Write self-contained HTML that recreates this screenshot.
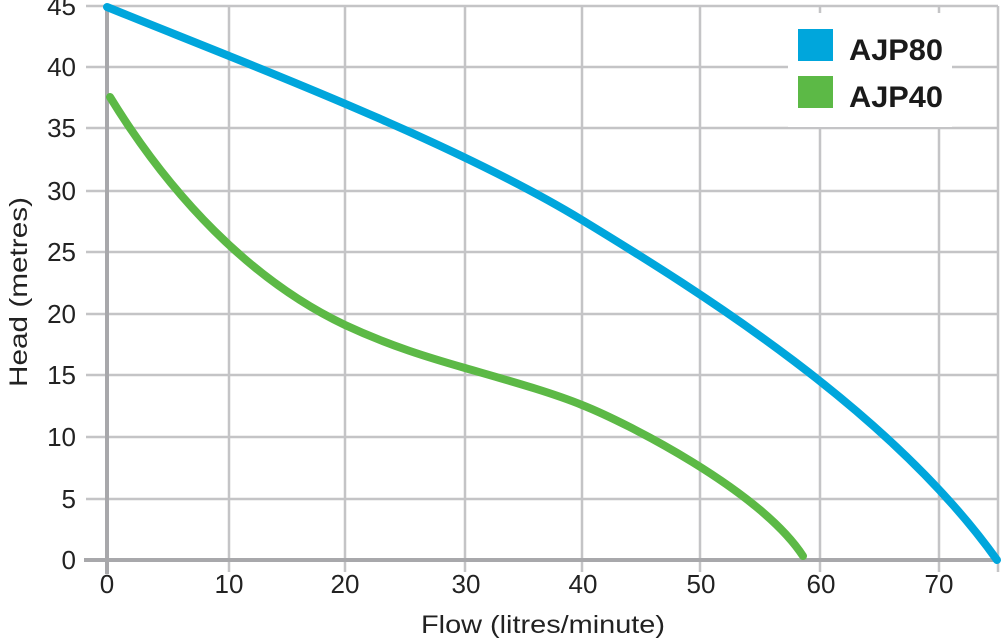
<!DOCTYPE html>
<html><head><meta charset="utf-8"><style>
html,body{margin:0;padding:0;background:#fff;}
svg{display:block;}
text{font-family:"Liberation Sans",Arial,sans-serif;fill:#222;}
</style></head><body>
<svg width="1004" height="642" viewBox="0 0 1004 642" xmlns="http://www.w3.org/2000/svg">
<g stroke="#c4c4c6" stroke-width="2.5">
<line x1="86" y1="6" x2="998" y2="6"/>
<line x1="86" y1="67" x2="998" y2="67"/>
<line x1="86" y1="128" x2="998" y2="128"/>
<line x1="86" y1="191" x2="998" y2="191"/>
<line x1="86" y1="252" x2="998" y2="252"/>
<line x1="86" y1="314" x2="998" y2="314"/>
<line x1="86" y1="375" x2="998" y2="375"/>
<line x1="86" y1="437" x2="998" y2="437"/>
<line x1="86" y1="499" x2="998" y2="499"/>
<line x1="229" y1="6" x2="229" y2="572"/>
<line x1="345" y1="6" x2="345" y2="572"/>
<line x1="465" y1="6" x2="465" y2="572"/>
<line x1="582" y1="6" x2="582" y2="572"/>
<line x1="700" y1="6" x2="700" y2="572"/>
<line x1="820" y1="6" x2="820" y2="572"/>
<line x1="939" y1="6" x2="939" y2="572"/>
<line x1="998" y1="6" x2="998" y2="572"/>
</g>
<g stroke="#a8a8ab" stroke-width="4">
<line x1="107" y1="4" x2="107" y2="574"/>
<line x1="84" y1="560" x2="998" y2="560"/>
</g>
<rect x="788" y="13" width="164" height="114" fill="#fff"/>
<rect x="798" y="29" width="35" height="32" fill="#00a6dc"/>
<rect x="798" y="76" width="35" height="32" fill="#5cb946"/>
<text x="849" y="60" font-size="30" font-weight="bold" style="fill:#1a1a1a" textLength="94" lengthAdjust="spacingAndGlyphs">AJP80</text>
<text x="849" y="107" font-size="30" font-weight="bold" style="fill:#1a1a1a" textLength="94" lengthAdjust="spacingAndGlyphs">AJP40</text>
<path fill="none" stroke="#00a6dc" stroke-width="8" stroke-linecap="round" stroke-linejoin="round" d="M107,7 C250,65 450,140 582,220 C700,292 890,410 997,560"/>
<path fill="none" stroke="#5cb946" stroke-width="8" stroke-linecap="round" stroke-linejoin="round" d="M110,97 C170,195 250,280 345,325 C390,346 430,358 465,368 C510,381 550,392 582,405 C625,422 760,490 803,556"/>
<g font-size="26" text-anchor="end">
<text x="76" y="15">45</text>
<text x="76" y="76">40</text>
<text x="76" y="137">35</text>
<text x="76" y="200">30</text>
<text x="76" y="261">25</text>
<text x="76" y="323">20</text>
<text x="76" y="384">15</text>
<text x="76" y="446">10</text>
<text x="76" y="508">5</text>
<text x="76" y="569">0</text>
</g>
<g font-size="26" text-anchor="middle">
<text x="107" y="593">0</text>
<text x="229" y="593">10</text>
<text x="345" y="593">20</text>
<text x="466" y="593">30</text>
<text x="583" y="593">40</text>
<text x="701" y="593">50</text>
<text x="821" y="593">60</text>
<text x="939" y="593">70</text>
</g>
<text x="421" y="633" font-size="25" textLength="244" lengthAdjust="spacingAndGlyphs">Flow (litres/minute)</text>
<text transform="translate(27,387) rotate(-90)" font-size="25" textLength="190" lengthAdjust="spacingAndGlyphs">Head (metres)</text>
</svg>
</body></html>
